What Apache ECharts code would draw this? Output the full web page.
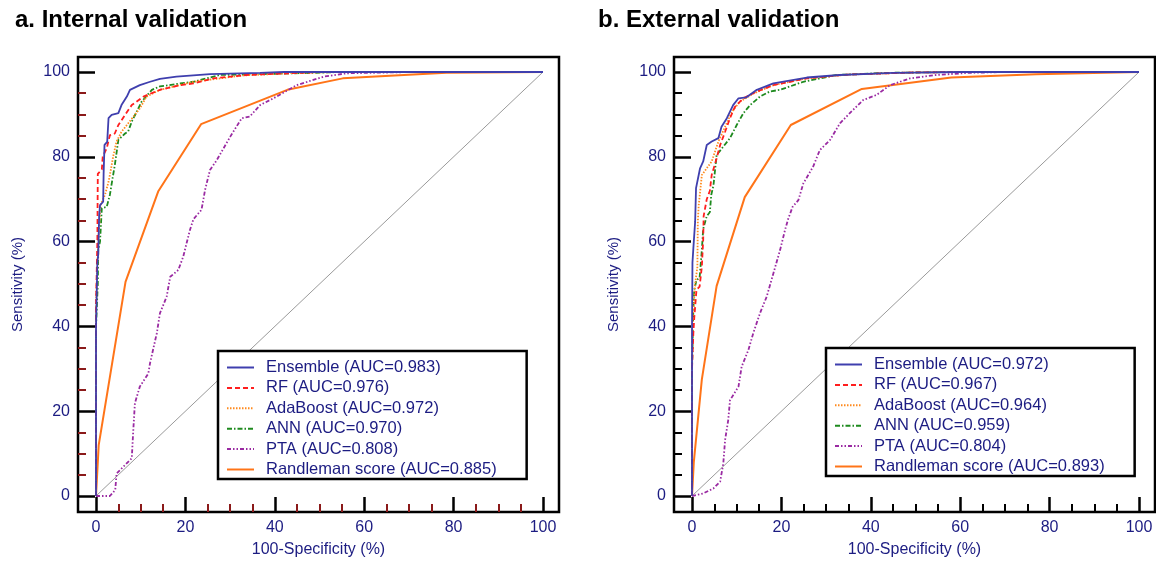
<!DOCTYPE html>
<html>
<head>
<meta charset="utf-8">
<script src="https://cdn.jsdelivr.net/npm/echarts@6/dist/echarts.min.js"></script>
<style>html,body{margin:0;padding:0;background:#fff}#c{width:1156px;height:562px}</style>
</head>
<body>
<div id="c"></div>
<script>
// ---------- DATA ----------
const majorTicks = [0, 20, 40, 60, 80, 100];
const minorTicks = [5, 10, 15, 25, 30, 35, 45, 50, 55, 65, 70, 75, 85, 90, 95];
const panelTitles = ['a. Internal validation', 'b. External validation'];
const modelNames = ['Ensemble', 'RF', 'AdaBoost', 'ANN', 'PTA', 'Randleman score'];
const aucInternal = ['0.983', '0.976', '0.972', '0.970', '0.808', '0.885'];
const aucExternal = ['0.972', '0.967', '0.964', '0.959', '0.804', '0.893'];

// Internal validation curves: [100-Specificity, Sensitivity]
const ensembleInt = [[0,0],[0,40],[0.3,55],[0.5,57],[0.7,66],[0.9,68.6],[1.6,69.4],[1.7,76],[1.9,82.8],[2.5,83.5],[2.8,89.1],[3.5,89.9],[5,90.3],[5.7,92.2],[6.9,94.2],[7.6,95.8],[9.8,96.9],[12.1,97.7],[14.3,98.4],[18,98.9],[25.5,99.5],[36.7,99.8],[42,100],[100,100]];
const rfInt = [[0,0],[0,45],[0.3,60],[0.4,76],[1.3,77],[1.5,80],[2.4,82],[3.1,85.1],[4.2,85.5],[5,87.5],[6.5,89.9],[8,92.2],[10.6,94.2],[14.3,95.8],[18.8,96.9],[21.8,97.3],[26.2,98.5],[33.7,99.3],[41,99.6],[50,100],[100,100]];
const adaInt = [[0,0],[0,45],[0.3,55],[0.6,62],[1,68.6],[2,71],[2.8,74.1],[3.1,75.7],[3.9,80.4],[4.6,83.6],[5.7,85.9],[6.9,87.5],[9.8,91.4],[11.3,94.2],[14.3,95.8],[21.8,97.7],[33,99.2],[45,99.8],[55,100],[100,100]];
const annInt = [[0,0],[0,40],[0.4,50],[0.5,58],[0.9,60],[1.3,67.9],[2.4,68.2],[3.1,71],[3.7,74.9],[4.2,78],[5,84],[6.5,85.5],[7.2,86],[8,88.3],[10.2,93],[12.5,95.8],[14.3,96.6],[18.8,97.3],[21.8,97.7],[27.7,99.3],[41,99.6],[55,100],[100,100]];
const ptaInt = [[0,0],[3.1,0],[4.3,1.4],[4.6,5.3],[6.1,6.9],[8,8.9],[8.3,14.8],[8.7,21.9],[9.8,25.8],[11.7,28.9],[12.1,31.4],[13.6,38.4],[14.3,43.1],[15.8,47],[16.6,51.7],[18.4,53.3],[19.5,56.4],[21,62.7],[21.8,65.3],[23.6,67.5],[24.4,72.2],[25.5,76.9],[27,79.2],[30,84.7],[32.6,89.1],[34.4,89.5],[36.7,92.2],[39.7,93.8],[44.9,96.9],[50.9,98.9],[56.1,99.7],[71,100],[100,100]];
const randInt = [[0,0],[0.6,12],[6.6,50.5],[13.9,71.8],[23.5,87.7],[42.8,95.8],[55.2,98.5],[78.4,99.8],[100,100]];

// External validation curves
const ensembleExt = [[0,0],[0,40],[0.1,55],[0.3,58.4],[0.7,64.7],[0.9,72.6],[1.3,73],[1.8,77.3],[2.5,78.9],[3.3,82.8],[4.4,83.6],[5.9,84.4],[6.6,87.1],[7.8,89.1],[9.2,92.2],[10.4,93.8],[12.1,94],[14.5,95.8],[18.2,97.3],[25.7,98.7],[33,99.3],[45,99.8],[60,100],[100,100]];
const rfExt = [[0,0],[0,30],[0.3,38.4],[0.5,42],[1,48.6],[1.7,49.4],[2.2,54.1],[2.5,60.4],[2.6,66],[3.3,70],[4,72],[4.4,75.7],[5.5,79.6],[6.3,82.8],[7.4,85.9],[8.5,89.1],[9.6,91.8],[11.5,93.8],[14.5,95.4],[18.2,96.9],[25.7,98.5],[35,99.4],[50,99.9],[60,100],[100,100]];
const adaExt = [[0,0],[0,30],[0.2,43],[0.3,43.9],[0.7,50],[1.2,54],[1.3,64.7],[1.5,68.6],[2.2,75.7],[3.3,77.3],[4.4,78.9],[5.9,83.6],[7.4,87.1],[8.9,90.6],[10.7,93],[13.7,94.9],[18.2,96.9],[25,98.4],[35,99.4],[50,99.9],[60,100],[100,100]];
const annExt = [[0,0],[0,30],[0.3,44],[0.5,48.6],[1,50.9],[1.7,51.5],[2.2,58],[2.5,63],[3.3,66],[4,67],[4.3,71],[4.8,73.3],[5.5,80.4],[7,82.4],[8.5,84.4],[10,87.5],[11.5,90.3],[13,92.2],[15.2,94.2],[17.4,95.4],[19.7,95.8],[24.9,97.7],[32.4,99.3],[43.6,99.8],[60,100],[100,100]];
const ptaExt = [[0,0],[2.5,0.6],[4.8,1.8],[6.3,3.4],[7,7.7],[7.4,13.2],[8.1,17.9],[8.5,22.6],[10.4,25.8],[11.1,30.5],[12.6,34.4],[13.7,38.4],[15.2,43.1],[16.7,47],[18.2,52.5],[19.7,58],[20.8,62.7],[21.5,65.3],[22.5,68.2],[23.8,69.8],[24.9,73.7],[27.1,77.7],[28.6,81.6],[30.9,84],[33.1,87.9],[35.3,90.3],[38.3,93.4],[41.3,94.6],[44.3,96.9],[48.8,98.5],[54.7,99.3],[62,99.8],[70,100],[100,100]];
const randExt = [[0,0],[0.4,8],[2.2,27.5],[5.5,49.5],[11.8,70.5],[22.1,87.5],[38,96],[58,98.7],[77,99.5],[100,100]];
const diagonal = [[0,0],[100,100]];

// ---------- STYLE ----------
const FONT = "'Liberation Sans', Arial, sans-serif";
const NAVY = '#1c1c82';
const styles = [
  {color:'#3f3fae', type:'solid', width:1.8},
  {color:'#ff1e1e', type:[5,3], width:1.8},
  {color:'#ff8a1e', type:[1.5,1.5], width:1.8},
  {color:'#1e8a1e', type:[5,2,1.5,2], width:1.8},
  {color:'#9a2aa2', type:[4,2,1.5,2,1.5,2], width:1.8},
  {color:'#ff7418', type:'solid', width:2}
];

const panels = [
  {left:78, data:[ensembleInt, rfInt, adaInt, annInt, ptaInt, randInt], auc:aucInternal, minorColor:'#8b1a1a', legendLeft:218, legendTop:351},
  {left:674, data:[ensembleExt, rfExt, adaExt, annExt, ptaExt, randExt], auc:aucExternal, minorColor:'#000', legendLeft:826, legendTop:348}
];

const XMIN = -4.03, XMAX = 103.58, YMIN = -3.77, YMAX = 103.54;

const option = {
  animation:false,
  backgroundColor:'#fff',
  title: panelTitles.map((t,i)=>({text:t, left: i===0 ? 15 : 598, top: 8, padding:0,
    textStyle:{fontFamily:FONT, fontSize:24, fontWeight:'bold', color:'#000'}})),
  grid: [], xAxis: [], yAxis: [], series: [], legend: []
};

panels.forEach((p, pi) => {
  option.grid.push({left:p.left, top:57, width:481, height:455, show:true, borderColor:'#000', borderWidth:2.5, backgroundColor:'transparent', outerBoundsMode:'none'});
  const gx = option.xAxis.length;
  // major x axis
  option.xAxis.push({type:'value', gridIndex:pi, min:XMIN, max:XMAX, position:'bottom',
    name:'100-Specificity (%)', nameLocation:'middle', nameGap:30,
    nameTextStyle:{fontFamily:FONT, fontSize:16, color:NAVY},
    axisLine:{show:false, onZero:false}, splitLine:{show:false},
    axisTick:{show:true, inside:true, length:15, customValues:majorTicks, lineStyle:{color:'#000', width:2.5}},
    axisLabel:{show:true, customValues:majorTicks, margin:8, fontFamily:FONT, fontSize:16, color:NAVY}});
  // minor x axis
  option.xAxis.push({type:'value', gridIndex:pi, min:XMIN, max:XMAX, position:'bottom',
    axisLine:{show:false, onZero:false}, splitLine:{show:false},
    axisTick:{show:true, inside:true, length:8, customValues:minorTicks, lineStyle:{color:p.minorColor, width:2}},
    axisLabel:{show:false}});
  const gy = option.yAxis.length;
  option.yAxis.push({type:'value', gridIndex:pi, min:YMIN, max:YMAX, position:'left',
    name:'Sensitivity (%)', nameLocation:'middle', nameGap:53, nameRotate:90,
    nameTextStyle:{fontFamily:FONT, fontSize:15, color:NAVY},
    axisLine:{show:false, onZero:false}, splitLine:{show:false},
    axisTick:{show:true, inside:true, length:17, customValues:majorTicks, lineStyle:{color:'#000', width:2.5}},
    axisLabel:{show:true, customValues:majorTicks, margin:8, fontFamily:FONT, fontSize:16, color:NAVY}});
  option.yAxis.push({type:'value', gridIndex:pi, min:YMIN, max:YMAX, position:'left',
    axisLine:{show:false, onZero:false}, splitLine:{show:false},
    axisTick:{show:true, inside:true, length:8, customValues:minorTicks, lineStyle:{color:p.minorColor, width:2}},
    axisLabel:{show:false}});

  option.series.push({type:'line', name:'diag'+pi, xAxisIndex:gx, yAxisIndex:gy, data:diagonal,
    symbol:'none', silent:true, lineStyle:{color:'#9a9a9a', width:1}, z:1});

  const names = [];
  p.data.forEach((d, si) => {
    const nm = modelNames[si] + ' (AUC=' + p.auc[si] + ')';
    names.push(nm);
    const st = styles[si];
    option.series.push({type:'line', name:nm, xAxisIndex:gx, yAxisIndex:gy, data:d,
      symbol:'none', showSymbol:false, silent:true, z: 10 - si,
      itemStyle:{color:st.color},
      lineStyle:{color:st.color, type:st.type, width:st.width}});
  });
  option.legend.push({orient:'vertical', left:p.legendLeft, top:p.legendTop,
    padding:[8, 30, 1, 8], borderColor:'#000', borderWidth:2.5, backgroundColor:'#fff',
    itemWidth:27, itemHeight:14, itemGap:3.4, selectedMode:false,
    itemStyle:{opacity:0, color:'transparent', borderWidth:0},
    textStyle:{fontFamily:FONT, fontSize:16.5, lineHeight:14, color:NAVY, padding:[0,0,0,7]},
    data:names});
});

const chart = echarts.init(document.getElementById('c'), null, {renderer:'canvas'});
chart.setOption(option);
</script>
</body>
</html>
